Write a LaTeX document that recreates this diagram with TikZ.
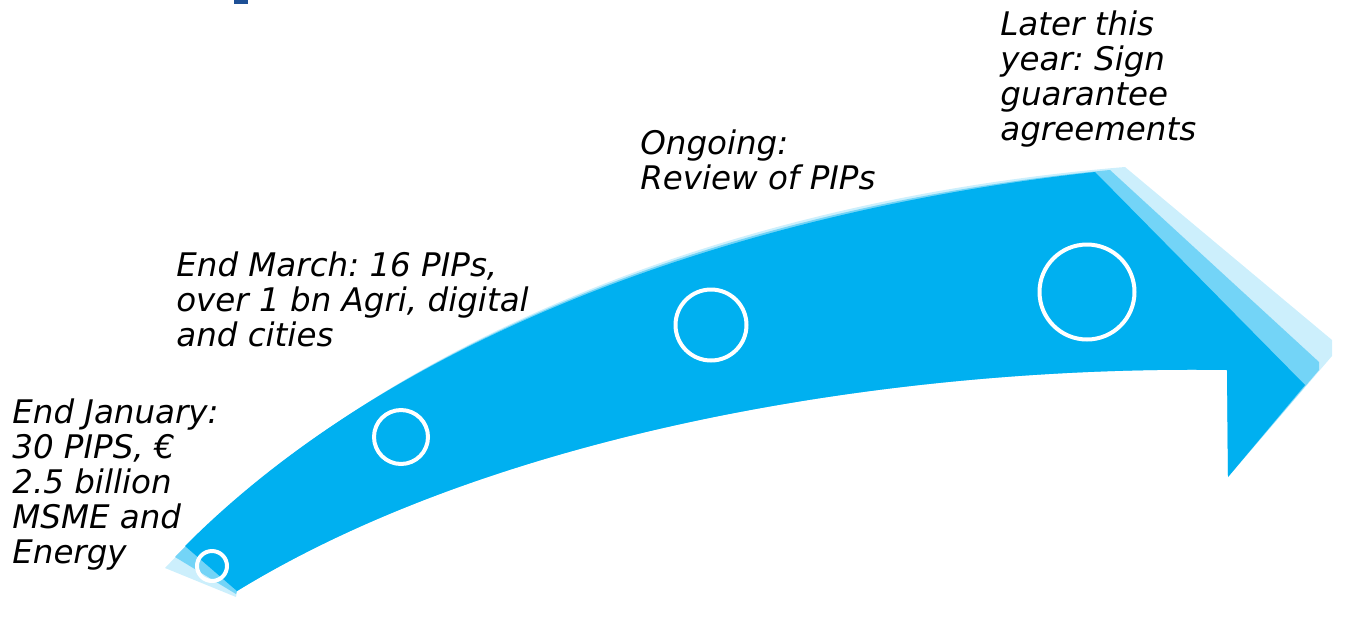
\documentclass[tikz,border=0pt]{standalone}
\usepackage{fontspec}
\setmainfont{DejaVu Sans}
\usepackage{tikz}

\definecolor{arrowblue}{RGB}{0,176,240}
\definecolor{titleblue}{RGB}{30,80,150}

\tikzset{
    ring/.style={circle, draw=white, line width=0.08cm, inner sep=0pt},
    stage/.style={anchor=base west, align=left, inner sep=0pt,
        font=\fontsize{18.5}{19.9}\selectfont\itshape\frenchspacing}
}

\begin{document}
\begin{tikzpicture}[x=0.02cm, y=-0.02cm]
    \useasboundingbox (0,0) rectangle (1366,637);

    % tail and head corners of the arrow
    \coordinate (A1) at (185, 546);
    \coordinate (A2) at (1095, 172);
    \coordinate (A3) at (1305, 385);
    \coordinate (A4) at (1228, 477);
    \coordinate (A5) at (1227, 370);
    \coordinate (A6) at (237, 591);

    % faded rim
    \coordinate (B1) at (165, 568);
    \coordinate (B2) at (1125, 167);
    \coordinate (B3) at (1332, 340);
    \coordinate (B4) at (1332, 356);
    \coordinate (B6) at (236, 597);

    \fill[titleblue] (234, 0) rectangle (248, 4);

    \fill[arrowblue!20] (B1) .. controls (390, 330) and (750, 198) .. (B2)
        -- (B3) -- (B4) -- (A4) -- (A5)
        .. controls (900, 365) and (500, 430) .. (A6) -- (B6) -- cycle;
    \fill[arrowblue!55] (175, 557) .. controls (395, 330) and (750, 204) .. (1110, 170)
        -- (1319, 362) -- (1319, 370) -- (A4) -- (A5)
        .. controls (900, 365) and (500, 430) .. (A6) -- (236, 594) -- cycle;
    \fill[arrowblue] (A1) .. controls (400, 330) and (750, 210) .. (A2)
        -- (A3) -- (A4) -- (A5)
        .. controls (900, 365) and (500, 430) .. (A6) -- cycle;

    \node[ring, minimum size=0.6cm]  (C1) at (212, 566) {};
    \node[ring, minimum size=1.08cm] (C2) at (401, 437) {};
    \node[ring, minimum size=1.42cm] (C3) at (711, 325) {};
    \node[ring, minimum size=1.9cm]  (C4) at (1087, 292) {};

%labels (placed by the baseline of their last line)
    \node[stage] (T1) at (12, 563) {End January:\\30 PIPS, €\\2.5 billion\\MSME and\\Energy};
    \node[stage] (T2) at (176, 346) {End March: 16 PIPs,\\over 1 bn Agri, digital\\and cities};
    \node[stage] (T3) at (640, 189) {Ongoing:\\Review of PIPs};
    \node[stage] (T4) at (1000, 140) {Later this\\year: Sign\\guarantee\\agreements};

\end{tikzpicture}
\end{document}
